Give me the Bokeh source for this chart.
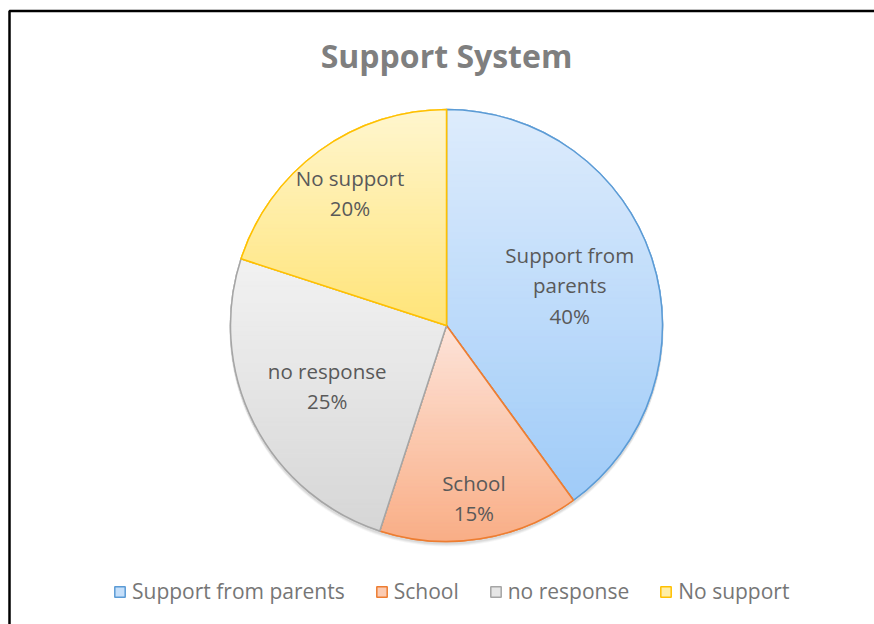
import numpy as np
from bokeh.plotting import figure
from bokeh.models import Legend, LegendItem, BoxAnnotation, Label, ColumnDataSource
from bokeh.core.properties import value
from bokeh.embed import file_html
from bokeh.resources import INLINE

# ---- data ----
categories = ["Support from parents", "School", "no response", "No support"]
shares = [40, 15, 25, 20]
slice_text = ["Support from\nparents", "School", "no response", "No support"]
pct_text = ["40%", "15%", "25%", "20%"]
title_text = "Support System"

# ---- styles ----
edge_colors = ["#5B9BD5", "#ED7D31", "#A5A5A5", "#FFC000"]
top_colors = ["#DEECFC", "#FDE4DA", "#F2F2F2", "#FFF6CF"]
bottom_colors = ["#9FCBF8", "#F9AE86", "#D6D6D6", "#FFE478"]
mid_colors = ["#C5DFFA", "#FBCBB2", "#E6E6E6", "#FFEEA6"]
label_r = [0.60, 0.81, 0.62, 0.76]
FONT = "Open Sans"

W, H = 874, 624
CX, CY, R = 446, H - 325, 216

p = figure(width=W, height=H, x_range=(0, W), y_range=(0, H),
           output_backend="svg", toolbar_location=None, min_border=0)
p.axis.visible = False
p.grid.visible = False
p.outline_line_color = None
p.background_fill_color = "white"
p.border_fill_color = "white"

# frame of the chart area
p.add_layout(BoxAnnotation(left=9, right=W + 20, bottom=-40, top=H - 10.5,
                           fill_alpha=0, line_color="black", line_alpha=1,
                           line_width=2.5))

def hex2rgb(h):
    h = h.lstrip("#")
    return np.array([int(h[i:i + 2], 16) for i in (0, 2, 4)], dtype=float)

def rgb2hex(c):
    c = np.clip(np.round(c), 0, 255).astype(int)
    return "#%02x%02x%02x" % tuple(c)

def clip_half(poly, yc, keep_above):
    out = []
    n = len(poly)
    for i in range(n):
        a = poly[i]
        b = poly[(i + 1) % n]
        ina = a[1] >= yc if keep_above else a[1] <= yc
        inb = b[1] >= yc if keep_above else b[1] <= yc
        if ina:
            out.append(a)
        if ina != inb:
            t = (yc - a[1]) / (b[1] - a[1])
            out.append((a[0] + t * (b[0] - a[0]), yc))
    return out

# soft shadow
for k, al in [(4, 0.04), (3, 0.05), (2, 0.06)]:
    p.circle(x=[CX], y=[CY - k], radius=R + 1, fill_color="black",
             fill_alpha=al, line_color=None)

total = float(sum(shares))
cum = np.cumsum([0] + list(shares)) / total
start = np.pi / 2 - 2 * np.pi * cum[:-1]
end = np.pi / 2 - 2 * np.pi * cum[1:]

legend_items = []
for i, cat in enumerate(categories):
    a0, a1 = start[i], end[i]
    base = p.wedge(x=[CX], y=[CY], radius=R, start_angle=[a1], end_angle=[a0],
                   direction="anticlock", fill_color=mid_colors[i],
                   line_color=edge_colors[i], line_width=1.5)
    legend_items.append(LegendItem(label=cat, renderers=[base]))
    # gradient strips
    ang = np.linspace(a0, a1, 120)
    poly = [(CX, CY)] + [(CX + R * np.cos(t), CY + R * np.sin(t)) for t in ang]
    ys = [q[1] for q in poly]
    ymin, ymax = min(ys), max(ys)
    nb = 60
    edges = np.linspace(ymax, ymin, nb + 1)
    ct, cb = hex2rgb(top_colors[i]), hex2rgb(bottom_colors[i])
    xs_l, ys_l, cols = [], [], []
    for j in range(nb):
        yt, yb = edges[j], edges[j + 1]
        pc = clip_half(poly, yb, True)
        pc = clip_half(pc, yt, False) if pc else []
        if len(pc) < 3:
            continue
        f = (j + 0.5) / nb
        cols.append(rgb2hex(ct + (cb - ct) * f))
        xs_l.append([q[0] for q in pc])
        ys_l.append([q[1] for q in pc])
    p.patches(xs=xs_l, ys=ys_l, fill_color=cols, line_color=cols, line_width=1)
    p.wedge(x=[CX], y=[CY], radius=R, start_angle=[a1], end_angle=[a0],
            direction="anticlock", fill_alpha=0,
            line_color=edge_colors[i], line_width=1.5)

# data labels
mids = (start + end) / 2
lx = [CX + R * label_r[i] * np.cos(mids[i]) for i in range(len(categories))]
ly = [CY + R * label_r[i] * np.sin(mids[i]) for i in range(len(categories))]
txt = [f"{slice_text[i]}\n{pct_text[i]}" for i in range(len(categories))]
src = ColumnDataSource(dict(x=lx, y=ly, t=txt))
p.text(x="x", y="y", text="t", source=src, text_align="center",
       text_baseline="middle", text_font=value(FONT), text_font_size="20.5px",
       text_color="#595959", text_line_height=1.08)

# title
p.add_layout(Label(x=CX, y=H - 55, text=title_text, text_align="center",
                   text_baseline="middle", text_font=FONT, text_font_style="bold",
                   text_font_size="32px", text_color="#7F7F7F"))

legend = Legend(items=legend_items, orientation="horizontal",
                location=(113, 19), glyph_width=13, glyph_height=13,
                label_standoff=6, spacing=30, padding=0, margin=0,
                label_text_font=FONT, label_text_font_size="21px",
                label_text_color="#767676", border_line_color=None,
                background_fill_alpha=0)
p.add_layout(legend)

open("out.html", "w").write(file_html(p, INLINE))
